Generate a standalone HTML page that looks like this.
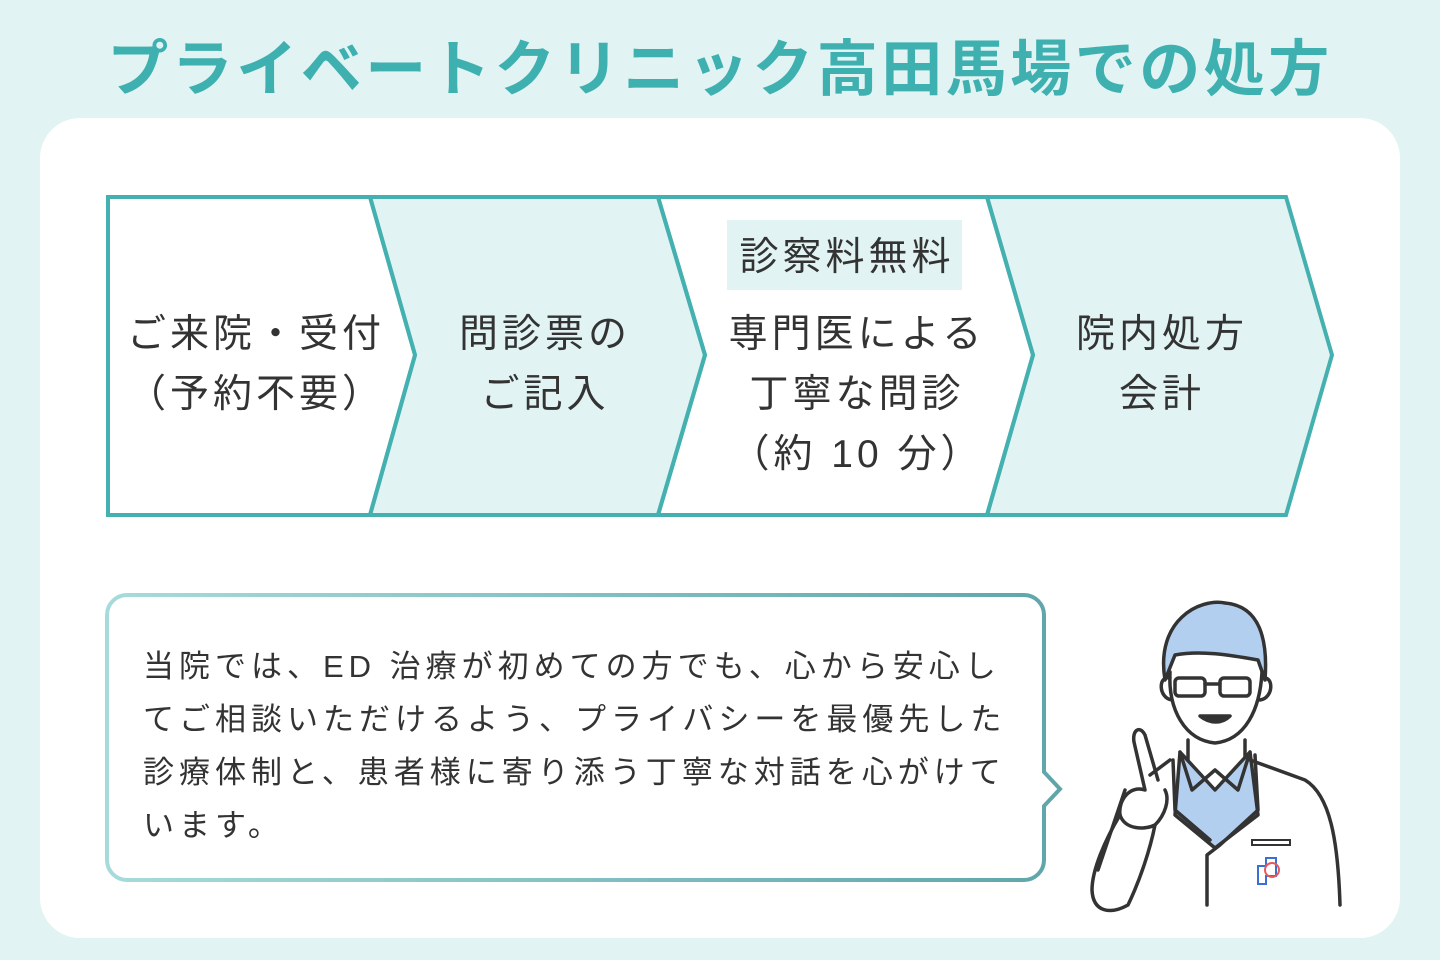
<!DOCTYPE html>
<html><head><meta charset="utf-8"><style>
body{margin:0;width:1440px;height:960px;background:#e1f3f3;overflow:hidden;font-family:"Liberation Sans","Noto Sans CJK JP",sans-serif;}
svg{position:absolute;left:0;top:0}
</style></head><body>
<svg width="1440" height="960" viewBox="0 0 1440 960" xmlns="http://www.w3.org/2000/svg" font-family="Liberation Sans, Noto Sans CJK JP, sans-serif">
<defs><linearGradient id="g" x1="0" x2="1"><stop offset="0" stop-color="#a6dbdb"/><stop offset="1" stop-color="#5ea6aa"/></linearGradient></defs>
<text x="720" y="90" text-anchor="middle" font-size="61" font-weight="bold" fill="#3fb0b0" letter-spacing="3.5">プライベートクリニック高田馬場での処方</text>
<rect x="40" y="118" width="1360" height="820" rx="40" fill="#fff"/>
<g stroke="#45b0b0" stroke-width="4" stroke-linejoin="miter">
<polygon points="370,197 658,197 705,355 658,515 370,515 415,355" fill="#e1f3f3"/>
<polygon points="987,197 1286,197 1332,355 1286,515 987,515 1033,355" fill="#e1f3f3"/>
<polygon points="108,197 370,197 415,355 370,515 108,515" fill="none"/>
<polygon points="658,197 987,197 1033,355 987,515 658,515 705,355" fill="none"/>
</g>
<rect x="727" y="220" width="235" height="70" fill="#e1f3f3"/>
<g font-size="39" fill="#333" text-anchor="middle" letter-spacing="4">
<text x="847" y="270">診察料無料</text>
<text x="256" y="347">ご来院・受付</text>
<text x="256" y="407">（予約不要）</text>
<text x="545" y="347">問診票の</text>
<text x="545" y="407">ご記入</text>
<text x="857" y="347">専門医による</text>
<text x="857" y="407">丁寧な問診</text>
<text x="857" y="467">（約 10 分）</text>
<text x="1162" y="347">院内処方</text>
<text x="1162" y="407">会計</text>
</g>
<path d="M127,595 H1024 A20,20 0 0 1 1044,615 V772 L1060,789 L1044,806 V860 A20,20 0 0 1 1024,880 H127 A20,20 0 0 1 107,860 V615 A20,20 0 0 1 127,595 Z" fill="#fff" stroke="url(#g)" stroke-width="4"/>
<g font-size="31" fill="#333" letter-spacing="5">
<text x="143" y="677">当院では、ED 治療が初めての方でも、心から安心し</text>
<text x="143" y="730">てご相談いただけるよう、プライバシーを最優先した</text>
<text x="143" y="783">診療体制と、患者様に寄り添う丁寧な対話を心がけて</text>
<text x="143" y="836">います。</text>
</g>
<g stroke="#333" stroke-width="3.5" fill="none" stroke-linecap="round" stroke-linejoin="round">
<path d="M1165,680 C1155,620 1200,598 1225,603 C1260,606 1268,640 1265,680 L1258,660 C1230,655 1200,650 1175,655 Z" fill="#b3cff0"/>
<path d="M1170,672 C1168,710 1185,740 1215,743 C1245,740 1260,710 1262,672"/>
<path d="M1170,678 C1158,675 1158,698 1172,700 M1262,678 C1274,675 1274,698 1260,700"/>
<rect x="1175" y="678" width="30" height="18" rx="4"/><rect x="1220" y="678" width="30" height="18" rx="4"/><path d="M1205,684 H1220"/>
<path d="M1200,716 C1210,724 1222,724 1230,716 Z" fill="#333"/>
<path d="M1188,740 V760 M1245,740 V760"/>
<path d="M1180,752 L1215,790 L1250,752 L1258,815 L1215,848 L1175,815 Z" fill="#b3cff0"/>
<path d="M1180,752 L1192,790 L1215,770 L1238,790 L1250,752"/>
<path d="M1170,760 L1150,775 M1250,760 L1305,780 C1330,795 1338,840 1340,905"/>
<path d="M1173,760 L1175,810 L1210,840 M1255,755 L1258,810 L1220,845 L1207,855 V905"/>
<path d="M1158,780 L1145,735 C1140,725 1132,730 1134,742 L1145,790 C1130,785 1118,800 1120,815 C1125,830 1145,830 1155,825 C1165,815 1170,800 1165,790"/>
<path d="M1120,815 C1105,840 1092,870 1092,890 C1093,912 1110,915 1128,905 C1140,880 1150,850 1155,825"/>
<path d="M1098,870 L1125,790"/>
</g>
<rect x="1252" y="840" width="38" height="5" fill="none" stroke="#333" stroke-width="2"/>
<path d="M1258,866 h8 v-8 h10 v18 h-10 v8 h-8 z" fill="none" stroke="#3a6fd8" stroke-width="2"/>
<circle cx="1272" cy="870" r="7" fill="none" stroke="#e85a5a" stroke-width="2"/>
</svg>
</body></html>
